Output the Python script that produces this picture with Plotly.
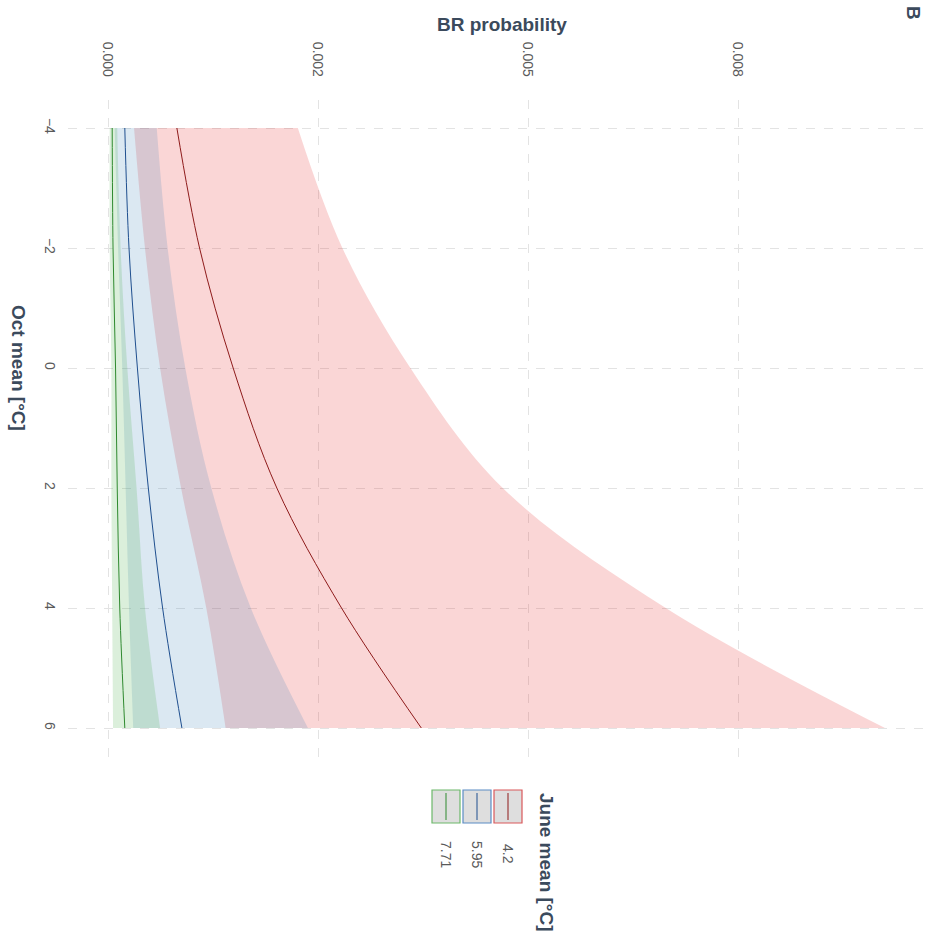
import plotly.graph_objects as go

# Oct mean temperature (°C) and predicted BR probability for three June means
oct_mean = [-4, -2, 0, 2, 4, 6]
june_levels = ["4.2", "5.95", "7.71"]

fit_42 = [0.00082, 0.00109, 0.00149, 0.00201, 0.00278, 0.00373]
lo_42 = [0.00031, 0.00044, 0.00062, 0.00087, 0.00117, 0.00140]
hi_42 = [0.00226, 0.00279, 0.00360, 0.00470, 0.00664, 0.00925]

fit_595 = [0.00020, 0.00025, 0.00035, 0.00048, 0.00065, 0.00088]
lo_595 = [0.00008, 0.00012, 0.00017, 0.00021, 0.00025, 0.00030]
hi_595 = [0.00058, 0.00071, 0.00092, 0.00123, 0.00170, 0.00238]

fit_771 = [0.00005, 0.00006, 0.00009, 0.00011, 0.00014, 0.00020]
lo_771 = [0.00002, 0.00002, 0.00004, 0.00004, 0.00005, 0.00006]
hi_771 = [0.00011, 0.00015, 0.00023, 0.00034, 0.00044, 0.00062]

x_tickvals = [0.0, 0.0025, 0.005, 0.0075]
x_ticktext = ["0.000", "0.002", "0.005", "0.008"]
y_tickvals = [-4, -2, 0, 2, 4, 6]

series = [
    (june_levels[0], fit_42, lo_42, hi_42, "#8e1b1b", "rgba(228,26,28,0.18)", "#d9585a"),
    (june_levels[1], fit_595, lo_595, hi_595, "#1f4f8f", "rgba(55,126,184,0.18)", "#5a8cc4"),
    (june_levels[2], fit_771, lo_771, hi_771, "#2f8a2f", "rgba(77,175,74,0.20)", "#6cb86a"),
]

W, H = 932, 936
L, R, T, B = 68, 4, 100, 178
PW, PH = W - L - R, H - T - B


def px(xp):
    return (xp - L) / PW


def py(yp):
    return (H - B - yp) / PH


fig = go.Figure()

# confidence ribbons
for name, fit, lo, hi, lc, fc, kc in series:
    fig.add_trace(go.Scatter(x=lo, y=oct_mean, mode="lines", line=dict(width=0, shape="spline"),
                             showlegend=False, hoverinfo="skip"))
    fig.add_trace(go.Scatter(x=hi, y=oct_mean, mode="lines", line=dict(width=0, shape="spline"),
                             fill="tonexty", fillcolor=fc, showlegend=False, hoverinfo="skip"))

# fitted curves
for name, fit, lo, hi, lc, fc, kc in series:
    fig.add_trace(go.Scatter(x=fit, y=oct_mean, mode="lines", name=name,
                             line=dict(color=lc, width=1, shape="spline"), showlegend=False))

title_color = "#3b4a5c"
tick_color = "#5a5a5a"
grid_color = "#e3e3e3"
font_family = "Liberation Sans, Arial"

fig.update_xaxes(
    range=[(L - 108) / 84000, (W - R - 108) / 84000],
    side="top", tickvals=x_tickvals, ticktext=x_ticktext, tickangle=90,
    showgrid=True, gridcolor=grid_color, griddash="dash", gridwidth=1,
    zeroline=False, showline=False, ticks="",
    tickfont=dict(family=font_family, size=14, color=tick_color),
    ticklabelstandoff=20,
)
fig.update_yaxes(
    range=[6 + (H - B - 728) / 60, -4 - (128 - T) / 60],
    tickvals=y_tickvals, tickangle=90,
    showgrid=True, gridcolor=grid_color, griddash="dash", gridwidth=1,
    zeroline=False, showline=False, ticks="",
    tickfont=dict(family=font_family, size=14, color=tick_color),
    ticklabelstandoff=8,
)

ann_font = dict(family=font_family, size=19, color=title_color)
annotations = [
    dict(text="<b>BR probability</b>", x=px(502), y=py(25), textangle=0, font=ann_font),
    dict(text="<b>Oct mean [°C]</b>", x=px(19), y=py(368), textangle=90, font=ann_font),
    dict(text="<b>B</b>", x=px(913), y=py(13), textangle=90, font=ann_font),
    dict(text="<b>June mean [°C]</b>", x=px(546), y=py(862), textangle=90, font=ann_font),
]

# legend keys, drawn rotated like the rest of the layout
key_centers = [508, 477, 446]
shapes = []
for (name, fit, lo, hi, lc, fc, kc), cx in zip(series, key_centers):
    shapes.append(dict(type="rect", xref="paper", yref="paper",
                       x0=px(cx - 14), x1=px(cx + 14), y0=py(823), y1=py(790),
                       fillcolor="rgba(200,200,200,0.6)", line=dict(color=kc, width=1.2)))
    shapes.append(dict(type="line", xref="paper", yref="paper",
                       x0=px(cx), x1=px(cx), y0=py(820), y1=py(793),
                       line=dict(color=lc, width=1)))
    annotations.append(dict(text=name, x=px(cx), y=py(854), textangle=90,
                            font=dict(family=font_family, size=14, color=tick_color)))

for a in annotations:
    a.update(xref="paper", yref="paper", showarrow=False, xanchor="center", yanchor="middle")

fig.update_layout(
    width=W, height=H,
    margin=dict(l=L, r=R, t=T, b=B),
    paper_bgcolor="white", plot_bgcolor="white",
    annotations=annotations, shapes=shapes,
    showlegend=False,
)

fig.write_html("out.html")
